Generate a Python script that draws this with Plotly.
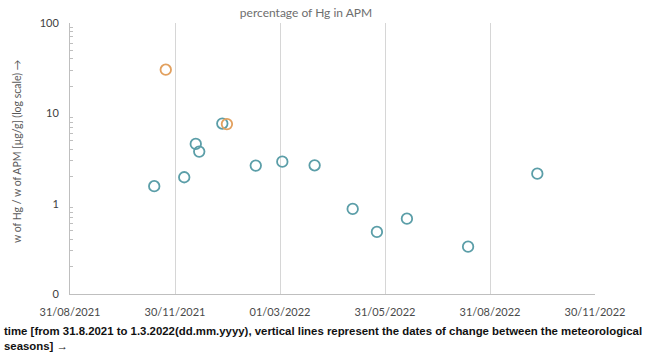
import plotly.graph_objects as go

blue_dates = ["2021-11-12", "2021-12-08", "2021-12-18", "2021-12-21", "2022-01-10",
              "2022-02-08", "2022-03-03", "2022-03-31", "2022-05-03", "2022-05-24",
              "2022-06-19", "2022-08-11", "2022-10-10"]
blue_values = [1.56, 1.96, 4.59, 3.77, 7.71, 2.64, 2.92, 2.66, 0.874, 0.487, 0.682, 0.334, 2.15]

orange_dates = ["2021-11-22", "2022-01-14"]
orange_values = [30.4, 7.61]

x_tickvals = ["2021-08-31", "2021-11-30", "2022-03-01", "2022-05-31", "2022-08-30", "2022-11-29"]
x_ticktext = ["31/08/2021", "30/11/2021", "01/03/2022", "31/05/2022", "31/08/2022", "30/11/2022"]
y_tickvals = [0.1, 1, 10, 100]
y_ticktext = ["0", "1", "10", "100"]
y_minor = [m * 10 ** e for e in (-1, 0, 1) for m in range(2, 10)]

BLUE = "#5b9ea8"
ORANGE = "#e2a05e"

fig = go.Figure()
fig.add_trace(go.Scatter(x=blue_dates, y=blue_values, mode="markers",
                         marker=dict(symbol="circle-open", size=10.5, color=BLUE, line=dict(width=1.8)),
                         showlegend=False))
fig.add_trace(go.Scatter(x=orange_dates, y=orange_values, mode="markers",
                         marker=dict(symbol="circle-open", size=10.5, color=ORANGE, line=dict(width=1.8)),
                         showlegend=False))

fig.update_layout(
    width=645, height=353,
    margin=dict(l=70, r=50, t=23, b=59),
    plot_bgcolor="white", paper_bgcolor="white",
    title=dict(text="percentage of Hg in APM", x=306 / 645, xanchor="center", y=0.965, yanchor="middle",
               font=dict(family="Lato", size=12, color="#6e6e6e")),
    font=dict(family="Lato", color="#595959"),
)
fig.update_xaxes(
    type="date", range=["2021-08-31", "2022-11-29"],
    tickmode="array", tickvals=x_tickvals, ticktext=x_ticktext,
    showgrid=True, gridcolor="#d6d6d6", gridwidth=1.2,
    showline=True, linecolor="#bfbfbf", linewidth=1, ticks="",
    ticklabelstandoff=8,
    tickfont=dict(family="Lato", size=11, color="#4a4a4a"),
    zeroline=False,
)
fig.update_yaxes(
    type="log", range=[-1, 2],
    tickmode="array", tickvals=y_tickvals, ticktext=y_ticktext,
    showgrid=False, showline=True, linecolor="#bfbfbf", linewidth=1,
    ticks="", ticklabelstandoff=8,
    tickfont=dict(family="Lato", size=11, color="#404040"),
    minor=dict(tickmode="array", tickvals=y_minor, ticks="inside", ticklen=3,
               tickcolor="#bfbfbf", showgrid=False),
    zeroline=False,
)
fig.add_annotation(
    text="w of Hg / w of APM [µg/g] (log scale) →", textangle=-90,
    xref="paper", yref="paper", x=-53 / 525, y=(294 - 152) / 271, xanchor="center", yanchor="middle",
    showarrow=False, font=dict(family="Lato", size=10.5, color="#595959"),
)
fig.add_annotation(
    text="<b>time [from 31.8.2021 to 1.3.2022(dd.mm.yyyy), vertical lines represent the dates of change between the meteorological<br>seasons] →</b>",
    xref="paper", yref="paper", x=-68 / 525, y=-0.108, xanchor="left", yanchor="top", align="left",
    showarrow=False, font=dict(family="Liberation Sans", size=11.4, color="#111111"),
)

fig.write_html("out.html")
